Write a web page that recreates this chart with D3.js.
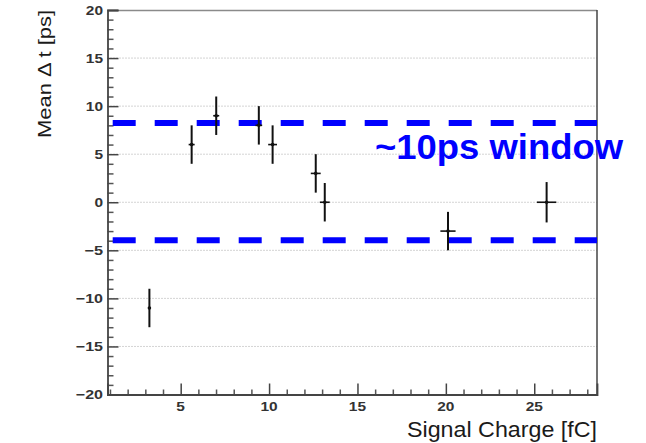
<!DOCTYPE html>
<html>
<head>
<meta charset="utf-8">
<script src="https://cdn.jsdelivr.net/npm/d3@7"></script>
<style>
  body { margin: 0; background: #fff; }
  svg { display: block; font-family: "Liberation Sans", Arial, sans-serif; }
</style>
</head>
<body>
<div id="chart"></div>
<script>
// measured points: signal charge [fC] and mean delta t [ps]
var charge    = [3.23, 5.62, 7.01, 9.42, 10.2, 12.64, 13.15, 20.12, 25.7];
var chargeErr = [0.08, 0.17, 0.17, 0.19, 0.25, 0.28, 0.28, 0.43, 0.55];
var meanDt    = [-11, 6, 9, 8, 6, 3, 0, -3, 0];
var meanDtErr = [2, 2, 2, 2, 2, 2, 2, 2, 2.1];

// the two dashed lines bounding the window
var windowBounds = [-3.95, 8.25];

var xTicks = [5, 10, 15, 20, 25];
var yTicks = [-20, -15, -10, -5, 0, 5, 10, 15, 20];

var points = charge.map(function(c, i) {
    return { x: c, ex: chargeErr[i], y: meanDt[i], ey: meanDtErr[i] };
});

var W = 646, H = 443;
var plotLeft = 107.5, plotRight = 597, plotTop = 10, plotBottom = 394.5;

var svg = d3.select("#chart").append("svg")
    .attr("width", W)
    .attr("height", H);

var x = d3.scaleLinear().domain([0.86, 28.55]).range([plotLeft, plotRight]);
var y = d3.scaleLinear().domain([-20, 20]).range([plotBottom, plotTop]);

// stretched tick labels, like the original picture
function labelLength(v) {
    var s = String(Math.abs(v));
    return s.length * 8.6 + (v < 0 ? 10 : 0);
}
function fmt(v) { return v < 0 ? "\u2212" + Math.abs(v) : String(v); }

// horizontal dotted grid
svg.append("g")
    .selectAll("line")
    .data(yTicks.filter(function(d) { return d > -20 && d < 20; }))
    .enter().append("line")
    .attr("x1", plotLeft).attr("x2", plotRight)
    .attr("y1", function(d) { return y(d); })
    .attr("y2", function(d) { return y(d); })
    .attr("stroke", "#a8a8a8")
    .attr("stroke-width", 1)
    .attr("stroke-dasharray", "1,2");

// frame: top and right
svg.append("line")
    .attr("x1", plotLeft).attr("x2", plotRight).attr("y1", plotTop + 0.5).attr("y2", plotTop + 0.5)
    .attr("stroke", "#8a8a8a").attr("stroke-width", 1.5);
svg.append("line")
    .attr("x1", plotRight).attr("x2", plotRight).attr("y1", plotTop).attr("y2", plotBottom)
    .attr("stroke", "#444").attr("stroke-width", 1.5);

// minor ticks
var yMinor = d3.range(-19, 20).filter(function(d) { return d % 5 !== 0; });
var xMinor = d3.range(1, 29).filter(function(d) { return d % 5 !== 0; });

var yAxis = d3.axisRight(y).tickValues(yMinor).tickSize(6).tickFormat("");
var xAxis = d3.axisTop(x).tickValues(xMinor).tickSize(5).tickFormat("");

var gyMinor = svg.append("g").attr("transform", "translate(" + plotLeft + ",0)").call(yAxis);
var gxMinor = svg.append("g").attr("transform", "translate(0," + plotBottom + ")").call(xAxis);
[gyMinor, gxMinor].forEach(function(g) {
    g.select(".domain").remove();
    g.selectAll("line").attr("stroke", "#555").attr("stroke-width", 1.5);
});

// major ticks + labels
var yMajor = d3.axisRight(y).tickValues(yTicks).tickSize(11).tickFormat("");
var xMajor = d3.axisTop(x).tickValues(xTicks).tickSize(11).tickFormat("");
var gy = svg.append("g").attr("class", "y-axis").attr("transform", "translate(" + plotLeft + ",0)").call(yMajor);
var gx = svg.append("g").attr("class", "x-axis").attr("transform", "translate(0," + plotBottom + ")").call(xMajor);
[gy, gx].forEach(function(g) {
    g.select(".domain").attr("stroke", "#444").attr("stroke-width", 1.8);
    g.selectAll("line").attr("stroke", "#444").attr("stroke-width", 1.5);
});

svg.append("g").selectAll("text")
    .data(yTicks)
    .enter().append("text")
    .attr("x", function(d) { return plotLeft - 4.5 - labelLength(d); })
    .attr("y", function(d) { return y(d) + 4.8; })
    .attr("textLength", labelLength)
    .attr("lengthAdjust", "spacingAndGlyphs")
    .style("font-size", "13px")
    .style("font-weight", "bold")
    .style("fill", "#333")
    .text(fmt);

svg.append("g").selectAll("text")
    .data(xTicks)
    .enter().append("text")
    .attr("x", function(d) { return x(d) - labelLength(d) / 2; })
    .attr("y", plotBottom + 16)
    .attr("textLength", labelLength)
    .attr("lengthAdjust", "spacingAndGlyphs")
    .style("font-size", "13px")
    .style("font-weight", "bold")
    .style("fill", "#333")
    .text(fmt);

// axis titles
svg.append("text")
    .attr("x", plotRight - 190)
    .attr("y", 436.5)
    .attr("textLength", 190)
    .attr("lengthAdjust", "spacingAndGlyphs")
    .style("font-size", "22px")
    .style("fill", "#1a1a1a")
    .text("Signal Charge [fC]");

svg.append("text")
    .attr("transform", "translate(51,138) rotate(-90)")
    .attr("textLength", 128)
    .attr("lengthAdjust", "spacingAndGlyphs")
    .style("font-size", "19px")
    .style("fill", "#1a1a1a")
    .text("Mean \u0394 t [ps]");

// window lines
svg.append("g")
    .selectAll("line")
    .data(windowBounds)
    .enter().append("line")
    .attr("x1", plotLeft).attr("x2", plotRight)
    .attr("y1", function(d) { return y(d); })
    .attr("y2", function(d) { return y(d); })
    .attr("stroke", "#0000ff")
    .attr("stroke-width", 6)
    .attr("stroke-dasharray", "23,19")
    .attr("stroke-dashoffset", 36.8);

svg.append("text")
    .attr("x", 375)
    .attr("y", 159)
    .attr("textLength", 248)
    .attr("lengthAdjust", "spacingAndGlyphs")
    .style("font-size", "35px")
    .style("font-weight", "bold")
    .style("fill", "#0000ff")
    .text("~10ps window");

// error bars
var pts = svg.append("g").selectAll("g")
    .data(points)
    .enter().append("g");

pts.append("line")
    .attr("x1", function(d) { return x(d.x); })
    .attr("x2", function(d) { return x(d.x); })
    .attr("y1", function(d) { return y(d.y + d.ey); })
    .attr("y2", function(d) { return y(d.y - d.ey); })
    .attr("stroke", "#111")
    .attr("stroke-width", 2);

pts.append("line")
    .attr("x1", function(d) { return x(d.x - d.ex); })
    .attr("x2", function(d) { return x(d.x + d.ex); })
    .attr("y1", function(d) { return y(d.y); })
    .attr("y2", function(d) { return y(d.y); })
    .attr("stroke", "#111")
    .attr("stroke-width", 1.6);

pts.append("circle")
    .attr("cx", function(d) { return x(d.x); })
    .attr("cy", function(d) { return y(d.y); })
    .attr("r", 1.8)
    .attr("fill", "#111");
</script>
</body>
</html>
